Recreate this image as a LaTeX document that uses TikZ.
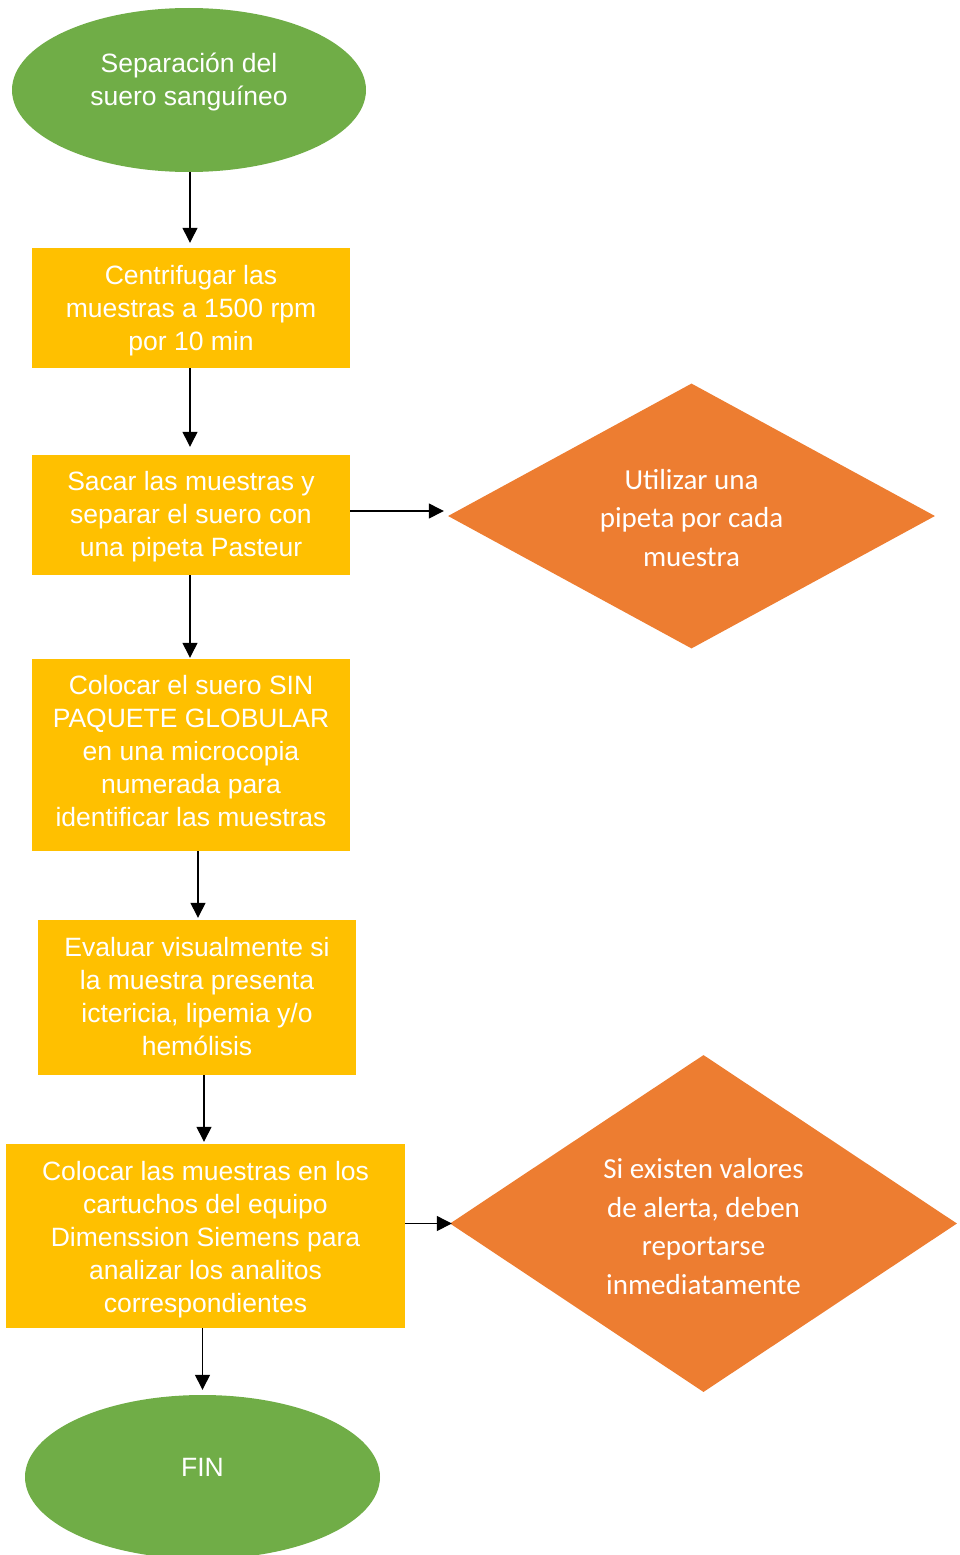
\documentclass[tikz,border=0pt]{standalone}
\usepackage{fontspec}
\setmainfont{Liberation Sans}
\newfontfamily\calib{Carlito}
\usetikzlibrary{shapes.geometric,arrows.meta}
\definecolor{cgreen}{HTML}{70AD47}
\definecolor{cyellow}{HTML}{FFC000}
\definecolor{corange}{HTML}{ED7D31}
\begin{document}
\begin{tikzpicture}[x=1pt,y=-1pt,
  ovalbox/.style={ellipse,fill=cgreen,inner sep=0pt},
  stepbox/.style={rectangle,fill=cyellow,inner sep=0pt},
  notebox/.style={diamond,fill=corange,inner sep=0pt,aspect=1.84},
  steptext/.style={text=white,align=center,inner sep=0pt,font=\fontsize{26.5}{33}\selectfont},
  notetext/.style={text=white,align=center,inner sep=0pt,font=\calib\fontsize{29}{38.5}\selectfont},
  conn/.style={line width=1.3pt,-{Triangle[width=15pt,length=15pt]}}]
\useasboundingbox (0,0) rectangle (960,1555);
\node[ovalbox,minimum width=354pt,minimum height=164pt] (e1) at (189,90) {};
\node[steptext] (t1) at (189,82) {Separación del\\suero sanguíneo};
\node[stepbox,minimum width=318pt,minimum height=120pt] (b1) at (191,308) {};
\node[steptext] (t2) at (191,311) {Centrifugar las\\muestras a 1500 rpm\\por 10 min};
\node[stepbox,minimum width=318pt,minimum height=120pt] (b2) at (191,515) {};
\node[steptext] (t3) at (191,517) {Sacar las muestras y\\separar el suero con\\una pipeta Pasteur};
\node[notebox,minimum width=487pt,minimum height=265pt] (d1) at (691.5,516) {};
\node[notetext] (t4) at (691.5,518) {Utilizar una\\pipeta por cada\\muestra};
\node[stepbox,minimum width=318pt,minimum height=192pt] (b3) at (191,755) {};
\node[steptext] (t5) at (191,751) {Colocar el suero SIN\\PAQUETE GLOBULAR\\en una microcopia\\numerada para\\identificar las muestras};
\node[stepbox,minimum width=318pt,minimum height=155pt] (b4) at (197,997.5) {};
\node[steptext] (t6) at (197,996.5) {Evaluar visualmente si\\la muestra presenta\\ictericia, lipemia y/o\\hemólisis};
\node[stepbox,minimum width=399pt,minimum height=184pt] (b5) at (205.5,1236) {};
\node[steptext] (t7) at (205.5,1240) {Colocar las muestras en los\\cartuchos del equipo\\Dimenssion Siemens para\\analizar los analitos\\correspondientes};
\node[notebox,minimum width=507pt,minimum height=337pt] (d2) at (703.5,1223.5) {};
\node[notetext] (t8) at (703.5,1226.5) {Si existen valores\\de alerta, deben\\reportarse\\inmediatamente};
\node[ovalbox,minimum width=355pt,minimum height=164pt] (e2) at (202.5,1477) {};
\node[steptext] (t9) at (202.5,1467) {FIN};
\draw[conn,shorten >=5pt] ([xshift=1pt]e1.south) -- ([xshift=-1pt]b1.north);
\draw[conn,shorten >=8pt] ([xshift=-1pt]b1.south) -- ([xshift=-1pt]b2.north);
\draw[conn,shorten >=1pt] ([xshift=-1pt]b2.south) -- ([xshift=-1pt]b3.north);
\draw[conn,shorten >=2pt] ([xshift=1pt]b4.north |- b3.south) -- ([xshift=1pt]b4.north);
\draw[conn,shorten >=2pt] ([xshift=-1.5pt]b5.north |- b4.south) -- ([xshift=-1.5pt]b5.north);
\draw[conn,shorten >=5pt] (e2.north |- b5.south) -- (e2.north);
\draw[conn,shorten >=4pt] ([yshift=4pt]b2.east) -- ([yshift=4pt]b2.east -| d1.west);
\draw[conn,shorten >=-2pt] (b5.east |- d2.west) -- (d2.west);
\end{tikzpicture}
\end{document}
